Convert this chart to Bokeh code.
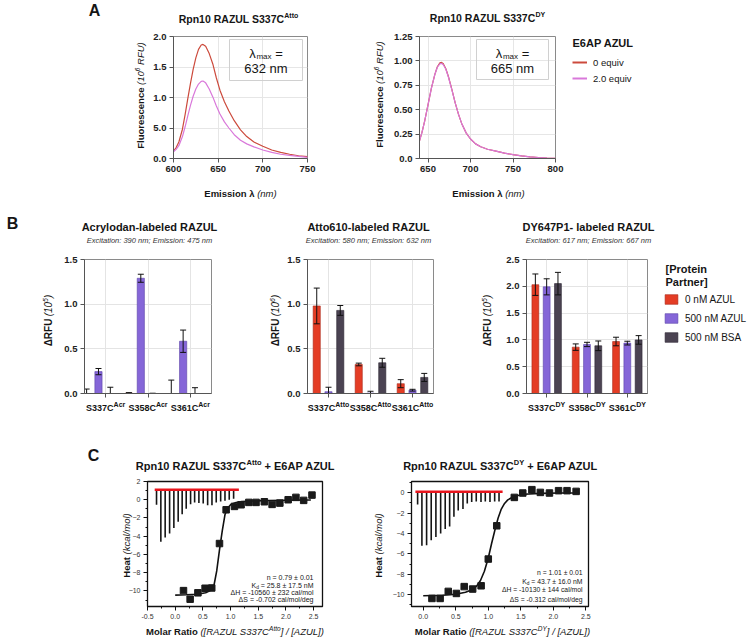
import numpy as np
from bokeh.plotting import figure
from bokeh.layouts import row, column
from bokeh.models import (Label, Range1d, FixedTicker, SingleIntervalTicker, Legend,
                          LegendItem, GridBox, NumeralTickFormatter)
from bokeh.embed import file_html
from bokeh.resources import INLINE

FONT = "Liberation Sans"
TXT = "#151515"
PAGE_W, PAGE_H = 750, 639

# ======================= DATA =======================
# ---- Panel A: emission spectra (Fluorescence, 10^6 RFU) ----
a_series = ["0 equiv", "2.0 equiv"]
a_legend_title = "E6AP AZUL"
a1_title, a1_title_sup = "Rpn10 RAZUL S337C", "Atto"
a2_title, a2_title_sup = "Rpn10 RAZUL S337C", "DY"
a1_lmax, a2_lmax = "632 nm", "665 nm"
a1_wl = [600, 603, 606, 610, 613, 616, 619, 622, 625, 628, 631, 633, 636, 640, 644,
         648, 652, 657, 662, 668, 675, 682, 690, 700, 710, 720, 730, 740, 750]
a1_0eq = [0.12, 0.18, 0.27, 0.48, 0.72, 0.98, 1.23, 1.46, 1.65, 1.79, 1.86, 1.87, 1.84, 1.72, 1.55,
          1.32, 1.12, 0.93, 0.78, 0.62, 0.47, 0.36, 0.27, 0.20, 0.14, 0.10, 0.07, 0.045, 0.03]
a1_2eq = [0.11, 0.15, 0.21, 0.36, 0.52, 0.70, 0.87, 1.02, 1.14, 1.22, 1.265, 1.27, 1.24, 1.14, 1.01,
          0.86, 0.73, 0.60, 0.50, 0.39, 0.30, 0.24, 0.19, 0.14, 0.10, 0.07, 0.05, 0.035, 0.02]
a2_wl = [640, 643, 646, 650, 654, 658, 661, 664, 666, 668, 671, 674, 678, 682, 686,
         690, 695, 700, 706, 712, 720, 730, 740, 750, 760, 770, 780, 790, 800]
a2_0eq = [0.18, 0.27, 0.38, 0.55, 0.72, 0.86, 0.94, 0.98, 0.985, 0.97, 0.92, 0.84, 0.71, 0.57, 0.45,
          0.35, 0.26, 0.20, 0.15, 0.12, 0.095, 0.075, 0.055, 0.04, 0.027, 0.017, 0.01, 0.005, 0.002]
a2_2eq = [0.18, 0.27, 0.38, 0.55, 0.72, 0.86, 0.935, 0.97, 0.975, 0.96, 0.915, 0.835, 0.705, 0.57, 0.45,
          0.35, 0.26, 0.20, 0.15, 0.12, 0.095, 0.075, 0.055, 0.04, 0.027, 0.017, 0.01, 0.005, 0.002]
a1_xticks = [600, 650, 700, 750]
a1_yticks = [0, 0.5, 1.0, 1.5, 2.0]
a1_ytick_labels = ["0.0", "5.0", "1.0", "1.5", "2.0"]
a2_xticks = [650, 700, 750, 800]
a2_yticks = [0, 0.25, 0.5, 0.75, 1.0, 1.25]
a2_ytick_labels = ["0.0", "0.25", "0.50", "0.75", "1.00", "1.25"]

# ---- Panel B: delta RFU bars ----
b_groups = ["S337C", "S358C", "S361C"]
b_conditions = ["0 nM AZUL", "500 nM AZUL", "500 nM BSA"]
b_legend_title = ["[Protein", "Partner]"]
b1_title, b1_sub, b1_sup = "Acrylodan-labeled RAZUL", "Excitation: 390 nm; Emission: 475 nm", "Acr"
b2_title, b2_sub, b2_sup = "Atto610-labeled RAZUL", "Excitation: 580 nm; Emission: 632 nm", "Atto"
b3_title, b3_sub, b3_sup = "DY647P1- labeled RAZUL", "Excitation: 617 nm; Emission: 667 nm", "DY"
b1_0nm = [0.0, 0.005, 0.0];      b1_0nm_err = [0.05, 0.005, 0.15]
b1_500az = [0.245, 1.29, 0.585]; b1_500az_err = [0.035, 0.045, 0.125]
b1_bsa = [0.0, 0.0, 0.0];        b1_bsa_err = [0.07, 0.003, 0.065]
b2_0nm = [0.98, 0.325, 0.11];    b2_0nm_err = [0.2, 0.015, 0.045]
b2_500az = [0.02, 0.005, 0.037]; b2_500az_err = [0.05, 0.02, 0.01]
b2_bsa = [0.93, 0.344, 0.18];    b2_bsa_err = [0.055, 0.05, 0.045]
b3_0nm = [2.03, 0.865, 0.97];    b3_0nm_err = [0.2, 0.06, 0.08]
b3_500az = [1.99, 0.915, 0.94];  b3_500az_err = [0.15, 0.04, 0.035]
b3_bsa = [2.05, 0.89, 1.0];      b3_bsa_err = [0.21, 0.09, 0.08]
b12_yticks = [0, 0.5, 1.0, 1.5]
b3_yticks = [0, 0.5, 1.0, 1.5, 2.0, 2.5]

# ---- Panel C: ITC ----
c1_title, c1_sup = "Rpn10 RAZUL S337C", "Atto"
c2_title, c2_sup = "Rpn10 RAZUL S337C", "DY"
c1_stats = ["n = 0.79 ± 0.01", "25.8 ± 17.5 nM", "ΔH = -10560 ± 232 cal/mol", "ΔS = -0.702 cal/mol/deg"]
c2_stats = ["n = 1.01 ± 0.01", "43.7 ± 16.0 nM", "ΔH = -10130 ± 144 cal/mol", "ΔS = -0.312 cal/mol/deg"]
c1_inj_x = [0.15, 0.27, 0.41, 0.54, 0.66, 0.80, 0.92, 1.07, 1.19, 1.33, 1.46, 1.61, 1.75, 1.89, 2.04, 2.18, 2.32, 2.47]
c1_inj_y = [-9.96, -10.9, -10.2, -9.7, -9.67, -4.8, -1.1, -0.73, -0.55, -0.29, -0.29, -0.22, -0.51, -0.37, 0.0, 0.26, -0.07, 0.51]
c1_fit_x = [0.0, 0.2, 0.4, 0.55, 0.65, 0.70, 0.75, 0.80, 0.85, 0.90, 0.95, 1.00, 1.05, 1.10, 1.20, 1.40, 1.70, 2.00, 2.45]
c1_fit_y = [-10.45, -10.42, -10.35, -10.2, -9.9, -9.4, -7.8, -5.5, -3.4, -1.6, -0.9, -0.55, -0.4, -0.3, -0.2, -0.13, -0.08, -0.05, -0.03]
c1_raw_x = [-0.337, -0.259, -0.181, -0.101, -0.024, 0.054, 0.126, 0.199, 0.278, 0.351, 0.428, 0.506,
            0.586, 0.664, 0.741, 0.821, 0.899, 0.976, 1.055]
c1_raw_y = [-0.55, -4.6, -4.15, -3.7, -3.1, -2.4, -1.6, -1.0, -0.5, -0.3, -0.35, -0.4,
            -0.6, -0.6, -0.3, -0.2, -0.1, 0.0, 0.1]
c1_base_x, c1_base_y = [-0.37, 1.15], [1.1, 1.1]
c2_inj_x = [0.134, 0.26, 0.385, 0.51, 0.63, 0.76, 0.89, 1.0, 1.13, 1.40, 1.53, 1.67, 1.80, 1.94, 2.08, 2.21, 2.35]
c2_inj_y = [-10.36, -10.36, -9.67, -9.87, -9.2, -9.44, -9.12, -6.5, -3.24, -0.46, -0.03, 0.3, 0.03, -0.03, 0.2, 0.2, 0.13]
c2_fit_x = [0.0, 0.3, 0.5, 0.65, 0.75, 0.82, 0.88, 0.94, 1.0, 1.05, 1.1, 1.15, 1.2, 1.25, 1.3, 1.4, 1.55, 1.8, 2.1, 2.4]
c2_fit_y = [-10.1, -10.05, -9.95, -9.75, -9.5, -9.15, -8.6, -7.7, -6.4, -5.0, -3.7, -2.5, -1.6, -1.05, -0.7, -0.35, -0.15, -0.06, -0.03, -0.02]
c2_raw_x = [-0.086, -0.020, 0.052, 0.123, 0.195, 0.268, 0.338, 0.406, 0.472, 0.538, 0.611, 0.677,
            0.745, 0.815, 0.888, 0.954, 1.026, 1.098, 1.165]
c2_raw_y = [-1.15, -5.2, -5.15, -4.65, -4.35, -4.0, -3.55, -3.3, -2.35, -1.75, -1.6, -1.05,
            -0.9, -0.85, -0.9, -0.85, -0.9, -0.85, -0.85]
c2_base_x, c2_base_y = [-0.12, 1.22], [0.1, 0.1]

# ======================= STYLE / HELPERS =======================
RED_A, MAG_A = "#cc4a3c", "#d978da"
B_FILL = ["#e43d25", "#8566d8", "#4b4352"]
B_LINE = ["#a8291a", "#5b43a8", "#2a2430"]

_UP = "ABCDEFGHIJKLMNOPQRSTUVWXYZ"
_LO = "abcdefghijklmnopqrstuvwxyz"
_R_UP = [667,667,722,722,667,611,778,722,278,500,667,556,833,722,778,667,778,722,667,611,722,667,944,667,667,611]
_R_LO = [556,556,500,556,556,278,556,556,222,222,500,222,833,556,556,556,556,333,500,278,556,500,722,500,500,500]
_B_UP = [722,722,722,722,667,611,778,722,278,556,722,611,833,722,778,667,778,722,667,611,722,667,944,667,667,611]
_B_LO = [556,611,556,611,556,333,611,611,278,278,556,278,889,611,611,611,611,389,556,333,611,556,778,556,556,500]
W_R = dict(zip(_UP, _R_UP)); W_R.update(zip(_LO, _R_LO))
W_B = dict(zip(_UP, _B_UP)); W_B.update(zip(_LO, _B_LO))
for d, extra in ((W_R, {":": 278, ";": 278, "[": 278, "]": 278}), (W_B, {":": 333, ";": 333, "[": 333, "]": 333})):
    d.update({c: 556 for c in "0123456789"})
    d.update({" ": 278, "(": 333, ")": 333, "-": 333, ".": 278, "/": 278, "+": 584, "=": 584,
              "±": 549, "λ": 556, "Δ": 668})
    d.update(extra)


def tw(s, size, style):
    tab = W_B if "bold" in style else W_R
    return sum(tab.get(c, 556) for c in s) * size / 1000.0


GEOM = {}


def make_fig(ox, oy, w, h, l, r, t, b, xr, yr):
    p = figure(width=w, height=h, x_range=Range1d(*xr), y_range=Range1d(*yr),
               toolbar_location=None, output_backend="svg",
               min_border_left=l, min_border_right=r, min_border_top=t, min_border_bottom=b,
               background_fill_color="white", border_fill_color="white")
    GEOM[id(p)] = dict(ox=ox, oy=oy, fl=ox + l, fr=ox + w - r, ft=oy + t, fb=oy + h - b, xr=xr, yr=yr)
    return p


def x_img(p, x):
    g = GEOM[id(p)]
    return g["fl"] + (x - g["xr"][0]) / (g["xr"][1] - g["xr"][0]) * (g["fr"] - g["fl"])


# transparent overlay that carries every text lying outside the plot frames (page pixel coordinates)
ov = figure(width=PAGE_W, height=PAGE_H, x_range=Range1d(0, PAGE_W), y_range=Range1d(PAGE_H, 0),
            toolbar_location=None, output_backend="svg", x_axis_type=None, y_axis_type=None,
            min_border_left=0, min_border_right=0, min_border_top=0, min_border_bottom=0,
            background_fill_color=None, border_fill_color=None, outline_line_color=None)
ov.grid.visible = False
OFF = [-50, -40]   # off-canvas stand-in coordinates for legend-only glyphs


def text(x, y, s, size, style="normal", align="left", angle=0.0, color=TXT):
    ov.add_layout(Label(x=x, y=y, text=s, text_font=FONT, text_font_size=f"{size}px",
                        text_font_style=style, text_align=align, text_baseline="middle",
                        angle=angle, text_color=color))


def rich(x, y, segs, align="center", vertical=False, color=TXT):
    total = sum(tw(s, sz, st) for s, sz, st, dy in segs)
    off = {"left": 0.0, "center": -total / 2.0, "right": -total}[align]
    for s, sz, st, dy in segs:
        lead = len(s) - len(s.lstrip(" "))
        core = s.strip(" ")
        pos = off + tw(" " * lead, sz, st)
        if core:
            if vertical:
                text(x + dy, y - pos, core, sz, st, "left", np.pi / 2, color)
            else:
                text(x + pos, y + dy, core, sz, st, "left", 0.0, color)
        off += tw(s, sz, st)


def style_axes(p, size, style, color, axis_color, minor=False):
    for ax in (p.xaxis[0], p.yaxis[0]):
        ax.axis_line_color = axis_color
        ax.major_tick_line_color = axis_color
        ax.major_tick_out = 4
        ax.major_tick_in = 0
        ax.minor_tick_line_color = axis_color if minor else None
        ax.minor_tick_out = 2
        ax.minor_tick_in = 0
        ax.major_label_text_font = FONT
        ax.major_label_text_font_size = f"{size}px"
        ax.major_label_text_font_style = style
        ax.major_label_text_color = color
        ax.major_label_standoff = 3


# ======================= PANEL A =======================
def panel_a(p, wl, y0, y1, xticks, yticks, ylabels):
    p.xaxis.ticker = FixedTicker(ticks=xticks)
    p.yaxis.ticker = FixedTicker(ticks=yticks)
    p.yaxis.major_label_overrides = dict(zip(yticks, ylabels))
    style_axes(p, 9.5, "bold", "#222222", "#555555")
    p.grid.grid_line_color = "#e6e6e6"
    p.outline_line_color = "#8a8a8a"
    p.line(wl, y0, line_color=RED_A, line_width=1.2)
    p.line(wl, y1, line_color=MAG_A, line_width=1.2)


pA1 = make_fig(0, 0, 370, 205, 173, 63, 36, 45, (600, 750), (0, 2.0))
panel_a(pA1, a1_wl, a1_0eq, a1_2eq, a1_xticks, a1_yticks, a1_ytick_labels)
pA2 = make_fig(370, 0, 380, 205, 49, 195, 34, 47, (640, 800), (0, 1.25))
panel_a(pA2, a2_wl, a2_0eq, a2_2eq, a2_xticks, a2_yticks, a2_ytick_labels)

text(94, 10, "A", 16, "bold", "center")
for cx, ty, title, sup, lmax, box in (
        (238, 18, a1_title, a1_title_sup, a1_lmax, (229, 302, 39, 80)),
        (487, 17, a2_title, a2_title_sup, a2_lmax, (476, 548, 39, 79))):
    rich(cx, ty, [(title, 10.5, "bold", 0), (sup, 7, "bold", -3.5)])
    ov.quad(left=[box[0]], right=[box[1]], top=[box[2]], bottom=[box[3]], fill_color=None,
            line_color="#d0d0d0", line_width=1)
    bx = (box[0] + box[1]) / 2
    rich(bx, 52.5, [("λ", 13, "normal", 0), ("max", 8, "normal", 3), (" =", 13, "normal", 0)])
    text(bx, 67.5, lmax, 13, "normal", "center")

rich(240, 193, [("Emission λ", 9.5, "bold", 0), (" (nm)", 9.5, "italic", 0)])
rich(488, 193, [("Emission λ", 9.5, "bold", 0), (" (nm)", 9.5, "italic", 0)])
for x, y in ((140, 95), (379, 94)):
    rich(x, y, [("Fluorescence", 9.5, "bold", 0), (" (10", 9.5, "italic", 0),
                ("6", 6.5, "italic", -3), (" RFU)", 9.5, "italic", 0)], vertical=True)

text(572, 42, a_legend_title, 11, "bold", "left")
la0 = ov.line(OFF, OFF, line_color=RED_A, line_width=2)
la1 = ov.line(OFF, OFF, line_color=MAG_A, line_width=2)
legA = Legend(items=[LegendItem(label=a_series[0], renderers=[la0]),
                     LegendItem(label=a_series[1], renderers=[la1])],
              location=(572, PAGE_H - 86), padding=0, margin=0, spacing=0, glyph_width=15, glyph_height=16,
              label_height=16, label_standoff=6, label_text_font=FONT, label_text_font_size="9.5px",
              label_text_color=TXT, border_line_color=None, background_fill_alpha=0)
ov.add_layout(legA)


# ======================= PANEL B =======================
def panel_b(p, series, errs, yticks, shift, sup):
    p.xaxis.ticker = FixedTicker(ticks=[0, 1, 2])
    p.xaxis.major_label_overrides = {0: "", 1: "", 2: ""}
    p.yaxis.ticker = FixedTicker(ticks=yticks)
    p.yaxis.formatter = NumeralTickFormatter(format="0.0")
    style_axes(p, 9.5, "bold", "#222222", "#555555")
    p.grid.grid_line_color = "#e4e4e4"
    p.outline_line_color = "#8a8a8a"
    for k, (vals, err) in enumerate(zip(series, errs)):
        xs = [g + shift + (k - 1) * 0.28 for g in range(len(b_groups))]
        p.vbar(x=xs, top=vals, bottom=0, width=0.17, fill_color=B_FILL[k],
               line_color=B_LINE[k], line_width=0.6)
        hi = [v + e for v, e in zip(vals, err)]
        lo = [v - e for v, e in zip(vals, err)]
        p.segment(x0=xs, y0=lo, x1=xs, y1=hi, line_color="#111111", line_width=1)
        p.scatter(xs, hi, marker="dash", size=6, line_color="#111111", line_width=1)
        p.scatter(xs, lo, marker="dash", size=6, line_color="#111111", line_width=1)
    for g, name in enumerate(b_groups):
        rich(x_img(p, g), 407, [(name, 9, "bold", 0), (sup, 7, "bold", -3)])


pB1 = make_fig(0, 205, 250, 225, 84, 39, 52, 37, (-0.5, 2.5), (0, 1.5))
panel_b(pB1, [b1_0nm, b1_500az, b1_bsa], [b1_0nm_err, b1_500az_err, b1_bsa_err], b12_yticks, -0.17, b1_sup)
pB2 = make_fig(250, 205, 228, 225, 57, 45, 53, 37, (-0.5, 2.5), (0, 1.5))
panel_b(pB2, [b2_0nm, b2_500az, b2_bsa], [b2_0nm_err, b2_500az_err, b2_bsa_err], b12_yticks, 0.0, b2_sup)
pB3 = make_fig(478, 205, 272, 225, 48, 103, 54, 37, (-0.5, 2.5), (0, 2.5))
panel_b(pB3, [b3_0nm, b3_500az, b3_bsa], [b3_0nm_err, b3_500az_err, b3_bsa_err], b3_yticks, 0.0, b3_sup)

text(12, 223, "B", 16, "bold", "center")
for cx, title, sub in ((149, b1_title, b1_sub), (368, b2_title, b2_sub), (588, b3_title, b3_sub)):
    text(cx, 226.5, title, 11, "bold", "center")
    text(cx, 239.5, sub, 7.5, "italic", "center", color="#333333")
for x, sup in ((48, "5"), (275, "6"), (487, "5")):
    rich(x, 320, [("ΔRFU", 10, "bold", 0), (" (10", 10, "italic", 0), (sup, 7, "italic", -3),
                  (")", 10, "italic", 0)], vertical=True)

text(665, 268, b_legend_title[0], 11, "bold", "left")
text(665, 281, b_legend_title[1], 11, "bold", "left")
lb = [ov.quad(left=[OFF[0]], right=[OFF[1]], top=[OFF[0]], bottom=[OFF[1]], fill_color=B_FILL[k],
              line_color=B_LINE[k], line_width=0.6) for k in range(3)]
legB = Legend(items=[LegendItem(label=c, renderers=[r]) for c, r in zip(b_conditions, lb)],
              location=(663, PAGE_H - 343), padding=0, margin=0, spacing=7, glyph_width=16, glyph_height=12,
              label_height=12, label_standoff=6, label_text_font=FONT, label_text_font_size="10px",
              label_text_color=TXT, border_line_color=None, background_fill_alpha=0)
ov.add_layout(legB)


# ======================= PANEL C =======================
def panel_c(p, inj_x, inj_y, fit_x, fit_y, raw_x, raw_y, base_x, base_y):
    p.xaxis.ticker = SingleIntervalTicker(interval=0.5, num_minor_ticks=2)
    p.xaxis.formatter = NumeralTickFormatter(format="0.0")
    p.yaxis.ticker = SingleIntervalTicker(interval=2, num_minor_ticks=2)
    style_axes(p, 7, "normal", "#333333", "#111111", minor=True)
    p.grid.grid_line_color = None
    p.outline_line_color = "#111111"
    p.outline_line_width = 1.3
    p.segment(x0=raw_x, y0=[base_y[0]] * len(raw_x), x1=raw_x, y1=raw_y, line_color="#151515", line_width=1.6)
    p.line(base_x, base_y, line_color="#e8141c", line_width=2.6)
    p.line(fit_x, fit_y, line_color="#111111", line_width=1.6)
    p.scatter(inj_x, inj_y, marker="square", size=6.5, fill_color="#1a1a1a", line_color="#1a1a1a")


pC1 = make_fig(0, 430, 370, 209, 147, 48, 51, 33, (-0.5, 2.66), (-11.7, 2.0))
panel_c(pC1, c1_inj_x, c1_inj_y, c1_fit_x, c1_fit_y, c1_raw_x, c1_raw_y, c1_base_x, c1_base_y)
pC2 = make_fig(370, 430, 380, 209, 41, 162, 51, 33, (-0.18, 2.54), (-11.15, 1.1))
panel_c(pC2, c2_inj_x, c2_inj_y, c2_fit_x, c2_fit_y, c2_raw_x, c2_raw_y, c2_base_x, c2_base_y)

text(93, 455, "C", 16, "bold", "center")
for cx, title, sup in ((235, c1_title, c1_sup), (500, c2_title, c2_sup)):
    rich(cx, 465, [(title, 11, "bold", 0), (sup, 7.5, "bold", -3.5), (" + E6AP AZUL", 11, "bold", 0)])
for cx, sup in ((234.5, c1_sup), (502, c2_sup)):
    rich(cx, 631, [("Molar Ratio", 9.5, "bold", 0), (" ([RAZUL S337C", 9.5, "italic", 0),
                   (sup, 6.5, "italic", -3), ("] / [AZUL])", 9.5, "italic", 0)])
for x in (126, 378):
    rich(x, 545, [("Heat", 9.5, "bold", 0), (" (kcal/mol)", 9.5, "italic", 0)], vertical=True)
for rx, ys, stats, fs in ((313, (577.3, 585, 592.3, 599.3), c1_stats, 7),
                          (582, (571.7, 580.7, 589.3, 598.7), c2_stats, 6.8)):
    text(rx, ys[0], stats[0], fs, "normal", "right")
    rich(rx, ys[1], [("K", fs, "normal", 0), ("d", fs * 0.7, "normal", 2), (" = " + stats[1], fs, "normal", 0)],
         align="right")
    text(rx, ys[2], stats[2], fs, "normal", "right")
    text(rx, ys[3], stats[3], fs, "normal", "right")

plots = column(row(pA1, pA2), row(pB1, pB2, pB3), row(pC1, pC2))
layout = GridBox(children=[(plots, 0, 0), (ov, 0, 0)])
open("out.html", "w").write(file_html(layout, INLINE))
